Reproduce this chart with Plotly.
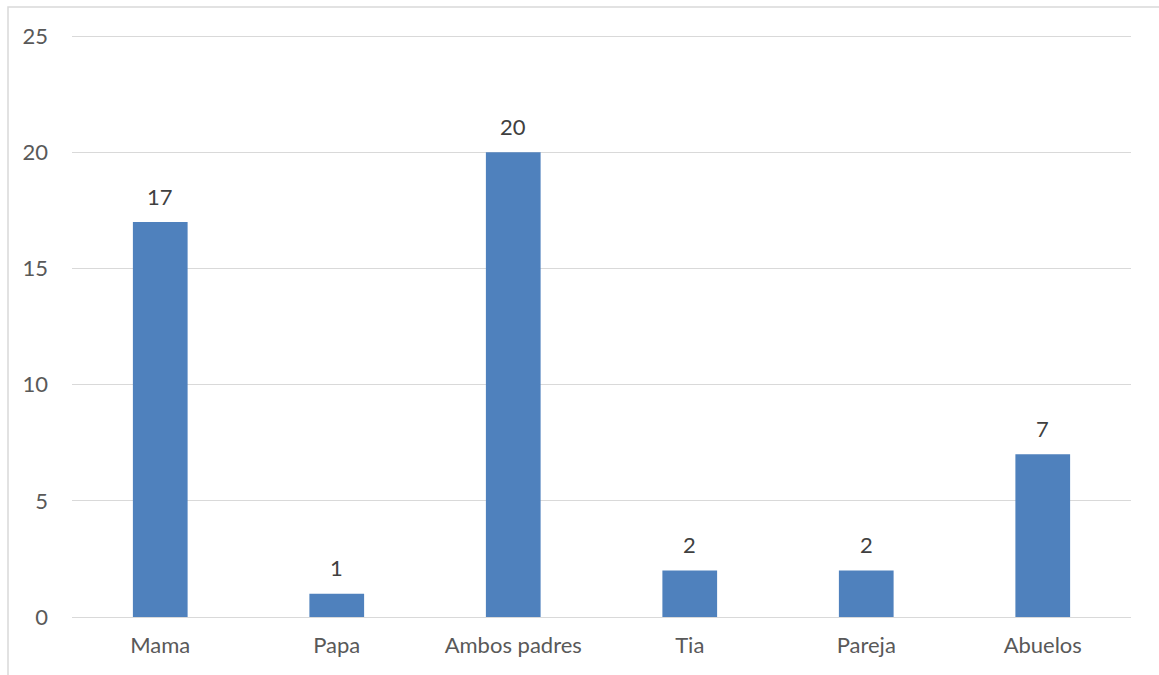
import plotly.graph_objects as go

categories = ["Mama", "Papa", "Ambos padres", "Tia", "Pareja", "Abuelos"]
values = [17, 1, 20, 2, 2, 7]
y_ticks = [0, 5, 10, 15, 20, 25]

FONT = "Lato"

fig = go.Figure()
fig.add_trace(go.Bar(
    x=categories, y=values,
    marker=dict(color="#4F81BD", line=dict(width=0)),
    hoverinfo="x+y",
))

for c, v in zip(categories, values):
    fig.add_annotation(x=c, y=v, text=str(v), showarrow=False,
                       yanchor="middle", yshift=26,
                       font=dict(family=FONT, size=22, color="#404040"))

fig.update_layout(
    width=1159, height=675,
    margin=dict(l=72, r=28, t=35, b=58),
    paper_bgcolor="white", plot_bgcolor="white",
    bargap=0.69,
    showlegend=False,
    font=dict(family=FONT, color="#595959", size=22),
    xaxis=dict(showgrid=False, showline=False, ticks="", ticklabelstandoff=13,
               tickfont=dict(family=FONT, size=22, color="#595959")),
    yaxis=dict(range=[0, 25.05], tickvals=y_ticks, showgrid=True, gridcolor="#D9D9D9",
               gridwidth=1, zeroline=True, zerolinecolor="#D9D9D9", zerolinewidth=1,
               showline=False, ticks="", ticklabelstandoff=23,
               tickfont=dict(family=FONT, size=22, color="#595959")),
    shapes=[dict(type="rect", xref="paper", yref="paper",
                 x0=(8 - 72) / 1059, x1=1.1, y0=-0.2, y1=(617 - 7) / 582,
                 line=dict(color="#D9D9D9", width=1.5), fillcolor="rgba(0,0,0,0)", layer="below")],
)

fig.write_html("out.html")
